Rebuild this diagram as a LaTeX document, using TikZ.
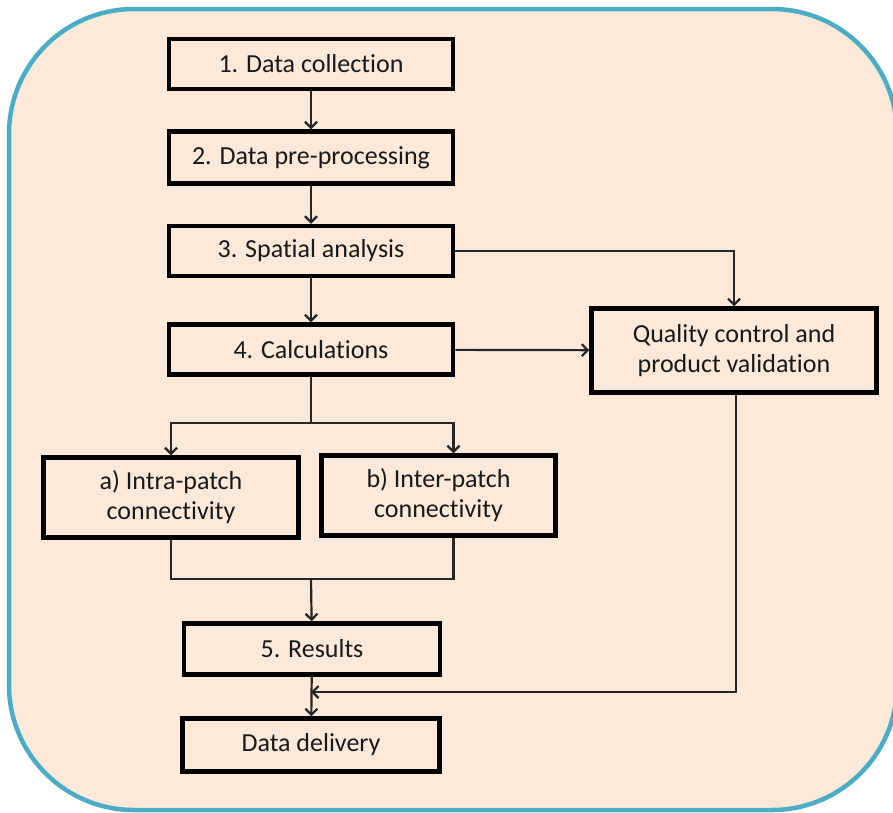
\documentclass[tikz,border=0pt]{standalone}
\usepackage{fontspec}
\setmainfont{Carlito}[Ligatures=NoCommon]
\usepackage{tikz}
\usetikzlibrary{arrows.meta,positioning,calc}
\definecolor{peach}{RGB}{252,233,218}
\definecolor{frameblue}{RGB}{75,172,198}

\begin{document}
\begin{tikzpicture}[x=1pt,y=-1pt,font=\fontsize{26}{30}\selectfont,
 box/.style={draw,line width=4.5pt,fill=peach,text=black!90,align=center,inner sep=0pt,
  minimum width=284pt,minimum height=50pt},
 ln/.style={line width=2.2pt,draw=black!85},
 arr/.style={ln,-{Straight Barb[length=6pt,width=12pt,line width=2.2pt]}}]
\useasboundingbox (0,0) rectangle (893,812);
\draw[line width=4.5pt,draw=frameblue,fill=peach,rounded corners=125pt] (9,9) rectangle (897,810);
% main column
\node[box] (collect) at (311,64) {1. Data collection};
\node[box,minimum height=52pt] (prep) at (311,157.5) {2. Data pre-processing};
\node[box] (spat) at (311,251) {3. Spatial analysis};
\node[box] (calc) at (311,349.5) {4. Calculations};
\node[box,minimum width=285pt,minimum height=84pt] (qc) at (734,350.5) {Quality control and\\product validation};
\node[box,minimum width=255pt,minimum height=80pt] (intra) at (171,497.5) {a) Intra-patch\\connectivity};
\node[box,minimum width=234pt,minimum height=80pt] (inter) at (438.5,495.5) {b) Inter-patch\\connectivity};
\node[box,minimum width=256pt,minimum height=51pt] (res) at (312,649) {5. Results};
\node[box,minimum width=257pt,minimum height=53pt] (deliv) at (311,745) {Data delivery};
\coordinate (split) at (311,423);
\coordinate (merge) at (311,579);
\coordinate (ret) at (311,692);
% connectors
\draw[arr] (collect)--(prep);\draw[arr] (prep)--(spat);\draw[arr] (spat)--(calc);
\draw[arr] (spat.east) -| (qc.north);
\draw[arr] (calc)--(qc);
\draw[ln] (calc.south)--(split);
\draw[arr] (split) -| (intra.north);
\draw[arr] (split) -| ([xshift=15pt]inter.north);
\draw[ln] (intra.south) |- (merge);
\draw[ln] ([xshift=15pt]inter.south) |- (merge);
\draw[arr] (merge)--(res);
\draw[arr] (res)--(deliv);
\draw[arr] ([xshift=2pt]qc.south) |- (ret);
\end{tikzpicture}
\end{document}
